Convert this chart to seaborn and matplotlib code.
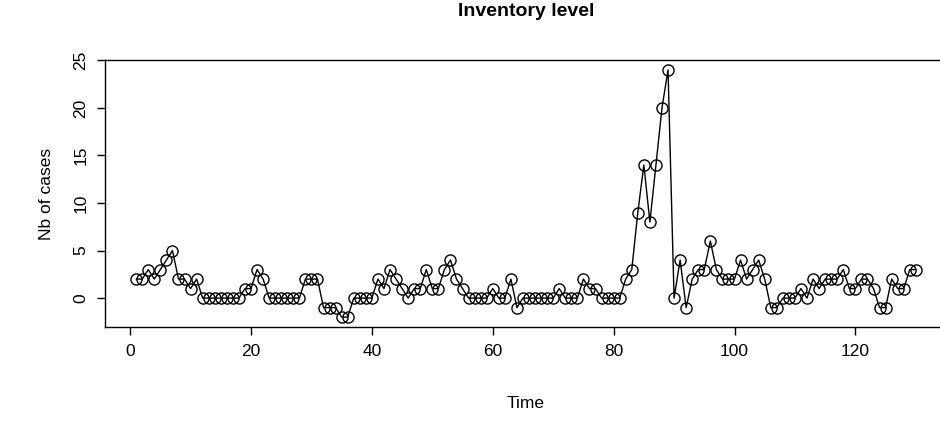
import numpy as np
import pandas as pd
import seaborn as sns
import matplotlib
matplotlib.use('Agg')
import matplotlib.pyplot as plt

stock = [2, 2, 3, 2, 3, 4, 5, 2, 2, 1, 2, 0, 0, 0, 0, 0, 0, 0, 1, 1,
         3, 2, 0, 0, 0, 0, 0, 0, 2, 2, 2, -1, -1, -1, -2, -2, 0, 0, 0, 0,
         2, 1, 3, 2, 1, 0, 1, 1, 3, 1, 1, 3, 4, 2, 1, 0, 0, 0, 0, 1,
         0, 0, 2, -1, 0, 0, 0, 0, 0, 0, 1, 0, 0, 0, 2, 1, 1, 0, 0, 0,
         0, 2, 3, 9, 14, 8, 14, 20, 24, 0, 4, -1, 2, 3, 3, 6, 3, 2, 2, 2,
         4, 2, 3, 4, 2, -1, -1, 0, 0, 0, 1, 0, 2, 1, 2, 2, 2, 3, 1, 1,
         2, 2, 1, -1, -1, 2, 1, 1, 3, 3]
time = list(range(1, len(stock) + 1))

sns.set_style('white')
plt.rcParams['font.family'] = ['Liberation Sans', 'DejaVu Sans']
plt.rcParams['text.color'] = 'black'
plt.rcParams['axes.labelcolor'] = 'black'
plt.rcParams['xtick.color'] = 'black'
plt.rcParams['ytick.color'] = 'black'

df = pd.DataFrame({'Time': time, 'stock': stock})

fig = plt.figure(figsize=(9.4, 4.34), dpi=100)
ax = fig.add_axes([105 / 940, 107 / 434, 842 / 940, 267 / 434])
sns.lineplot(data=df, x='Time', y='stock', ax=ax, color='black', lw=1,
             marker='o', markersize=8, markerfacecolor='none',
             markeredgecolor='black', markeredgewidth=1)

ax.set_xlim(-4.16, 135.16)
ax.set_ylim(-3.04, 25.04)
ax.set_xticks([0, 20, 40, 60, 80, 100, 120])
ax.set_yticks([0, 5, 10, 15, 20, 25])
ax.tick_params(axis='both', length=6, width=1, labelsize=12.5,
               direction='out', bottom=True, left=True, pad=6)
for lab in ax.get_yticklabels():
    lab.set_rotation(90)
    lab.set_va('center')
for s in ax.spines.values():
    s.set_color('black')
    s.set_linewidth(1)
ax.set_xlabel('Time', fontsize=12.5, labelpad=27)
ax.set_ylabel('Nb of cases', fontsize=12.5, labelpad=14)
fig.text(526 / 940, 1 - 12 / 434, 'Inventory level', ha='center', va='center',
         fontsize=14, fontweight='bold')

fig.savefig('out.png', dpi=100)
